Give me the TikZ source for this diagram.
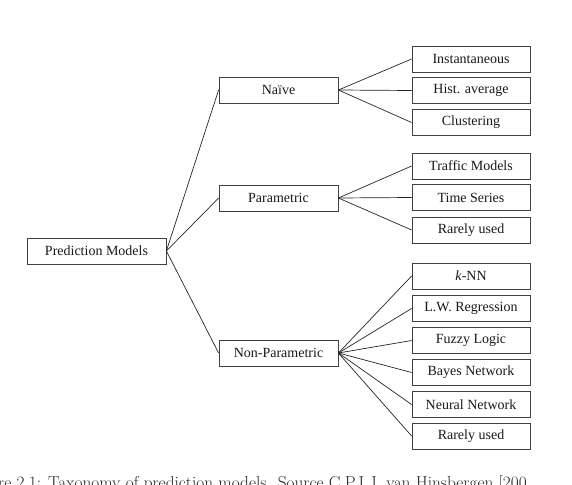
\documentclass[tikz,border=0pt]{standalone}
\usepackage{fontspec}
\newfontfamily\tnr{Liberation Serif}
\begin{document}
\begin{tikzpicture}[x=1pt,y=-1pt,
  box/.style={draw=black!75, line width=0.8pt, inner sep=0pt, minimum height=26pt,
    font=\tnr\fontsize{14}{16}\selectfont, text=black!90},
  leaf/.style={box, minimum width=118pt},
  mid/.style={box, minimum width=119pt},
  conn/.style={draw=black!85, line width=0.7pt}]
\useasboundingbox (0,0) rectangle (572,484);
\clip (0,0) rectangle (572,484);
\fill[white] (0,0) rectangle (572,484);
\node[box, minimum width=139pt] (pm) at (96.5,251) {Prediction Models};
\node[mid] (naive) at (278.5,90) {Naïve};
\node[mid] (param) at (278.5,198) {Parametric};
\node[mid] (nonp) at (278.5,353) {Non-Parametric};
\node[leaf] (inst) at (471,59) {Instantaneous};
\node[leaf] (hist) at (471,90.5) {Hist. average};
\node[leaf] (clus) at (471,122.5) {Clustering};
\node[leaf] (traf) at (471,166) {Traffic Models};
\node[leaf] (time) at (471,197.5) {Time Series};
\node[leaf] (rar1) at (471,230) {Rarely used};
\node[leaf] (knn) at (471,276) {\textit{k}-NN};
\node[leaf] (lwr) at (471,308.5) {L.W. Regression};
\node[leaf] (fuz) at (471,340.5) {Fuzzy Logic};
\node[leaf] (bay) at (471,372.5) {Bayes Network};
\node[leaf] (neu) at (471,404.5) {Neural Network};
\node[leaf] (rar2) at (471,436) {Rarely used};
\foreach \c in {naive,param,nonp} \draw[conn] (pm.east) -- (\c.west);
\foreach \c in {inst,hist,clus} \draw[conn] (naive.east) -- (\c.west);
\foreach \c in {traf,time,rar1} \draw[conn] (param.east) -- (\c.west);
\foreach \c in {knn,lwr,fuz,bay,neu,rar2} \draw[conn] (nonp.east) -- (\c.west);
\node[anchor=base west, inner sep=0pt, font=\fontsize{17.3}{20}\selectfont, text=black!85] (cap) at (-2,488) {re 2.1: Taxonomy of prediction models. Source C.P.I.J. van Hinsbergen [200};
\end{tikzpicture}
\end{document}
